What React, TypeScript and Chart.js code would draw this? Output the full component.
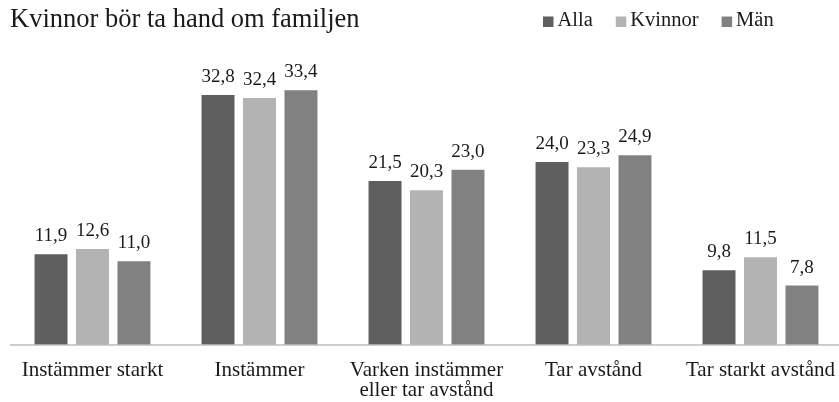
import React, { useEffect, useRef } from "react";
import { Chart, registerables } from "chart.js";

Chart.register(...registerables);

const TITLE = "Kvinnor bör ta hand om familjen";
const categories: (string | string[])[] = [
  "Instämmer starkt",
  "Instämmer",
  ["Varken instämmer", "eller tar avstånd"],
  "Tar avstånd",
  "Tar starkt avstånd",
];
const seriesNames = ["Alla", "Kvinnor", "Män"];
const alla = [11.9, 32.8, 21.5, 24.0, 9.8];
const kvinnor = [12.6, 32.4, 20.3, 23.3, 11.5];
const man = [11.0, 33.4, 23.0, 24.9, 7.8];
const colors = ["#5f5f5f", "#b3b3b3", "#818181"];

const FONT = "'Liberation Serif', 'DejaVu Serif', serif";
const TEXT = "#1a1a1a";

export default function App() {
  const ref = useRef<HTMLCanvasElement | null>(null);
  useEffect(() => {
    document.body.style.margin = "0";
    document.body.style.overflow = "hidden";
    document.documentElement.style.overflow = "hidden";
    if (!ref.current) return;
    const labelPlugin = {
      id: "valueLabels",
      afterDatasetsDraw(chart: any) {
        const ctx = chart.ctx;
        ctx.save();
        ctx.font = `19px ${FONT}`;
        ctx.fillStyle = TEXT;
        ctx.textAlign = "center";
        ctx.textBaseline = "alphabetic";
        chart.data.datasets.forEach((ds: any, i: number) => {
          const meta = chart.getDatasetMeta(i);
          meta.data.forEach((el: any, j: number) => {
            const v = ds.data[j] as number;
            ctx.fillText(v.toFixed(1).replace(".", ","), el.x, el.y - 13);
          });
        });
        ctx.restore();
      },
    };
    const decorPlugin = {
      id: "decor",
      afterDraw(chart: any) {
        const ctx = chart.ctx;
        const area = chart.chartArea;
        ctx.save();
        // baseline
        ctx.strokeStyle = "#bdbdbd";
        ctx.lineWidth = 1.5;
        ctx.beginPath();
        ctx.moveTo(10, area.bottom);
        ctx.lineTo(chart.width, area.bottom);
        ctx.stroke();
        // title
        ctx.font = `26.5px ${FONT}`;
        ctx.fillStyle = TEXT;
        ctx.textAlign = "left";
        ctx.textBaseline = "alphabetic";
        ctx.fillText(TITLE, 10, 27);
        // legend
        ctx.font = `20.5px ${FONT}`;
        ctx.textBaseline = "middle";
        let x = 543;
        const box = 10.5;
        chart.data.datasets.forEach((ds: any) => {
          ctx.fillStyle = ds.backgroundColor;
          ctx.fillRect(x, 16.5, box, box);
          x += box + 4;
          ctx.fillStyle = TEXT;
          ctx.fillText(ds.label, x, 21);
          x += ctx.measureText(ds.label).width + 23;
        });
        ctx.restore();
      },
    };
    const chart = new Chart(ref.current, {
      type: "bar",
      data: {
        labels: categories,
        datasets: [alla, kvinnor, man].map((d, i) => ({
          label: seriesNames[i],
          data: d,
          backgroundColor: colors[i],
          borderWidth: 0,
          categoryPercentage: 0.745,
          barPercentage: 0.795,
        })),
      },
      options: {
        responsive: false,
        animation: false,
        layout: { padding: { left: 9, right: 2, top: 40, bottom: 0 } },
        plugins: {
          title: { display: false },
          tooltip: { enabled: false },
          legend: { display: false },
        },
        scales: {
          x: {
            grid: { display: false },
            border: { display: false },
            afterFit: (scale: any) => {
              scale.height = 57;
            },
            ticks: {
              color: TEXT,
              font: { family: FONT, size: 21, lineHeight: 0.95 },
              maxRotation: 0,
              autoSkip: false,
              padding: 8,
            },
          },
          y: {
            display: false,
            min: 0,
            max: 40,
          },
        },
      },
      plugins: [labelPlugin, decorPlugin],
    });
    return () => chart.destroy();
  }, []);
  return (
    <div
      style={{
        position: "relative",
        width: 839,
        height: 402,
        overflow: "hidden",
        background: "#fff",
      }}
    >
      <canvas ref={ref} width={846} height={402} style={{ display: "block" }} />
    </div>
  );
}
